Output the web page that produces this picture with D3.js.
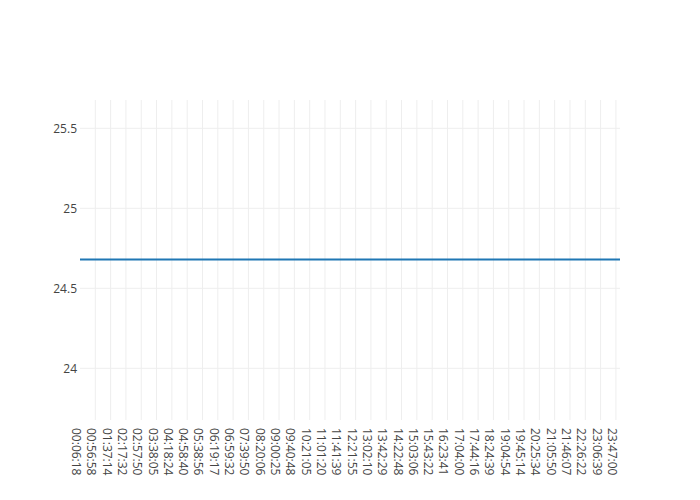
<!DOCTYPE html>
<html>
<head>
<meta charset="utf-8">
<script src="https://cdn.jsdelivr.net/npm/d3@7"></script>
<style>
  body { margin: 0; background: #fff; }
  text { font-family: "Open Sans", sans-serif; font-size: 12px; fill: #444; }
</style>
</head>
<body>
<div id="chart"></div>
<script>
// time labels shown on the category axis (one every 15 samples)
const timeLabels = ["00:06:18", "00:56:58", "01:37:14", "02:17:32", "02:57:50", "03:38:05",
    "04:18:24", "04:58:40", "05:38:56", "06:19:17", "06:59:32", "07:39:50",
    "08:20:06", "09:00:25", "09:40:48", "10:21:05", "11:01:20", "11:41:39",
    "12:21:55", "13:02:10", "13:42:29", "14:22:48", "15:03:06", "15:43:22",
    "16:23:41", "17:04:00", "17:44:16", "18:24:39", "19:04:54", "19:45:14",
    "20:25:34", "21:05:50", "21:46:07", "22:26:22", "23:06:39", "23:47:00"];
const labelStep = 15;
const lastSample = 529;

// readings at each labelled sample, plus the final sample
const temperature = [24.68, 24.68, 24.68, 24.68, 24.68, 24.68,
    24.68, 24.68, 24.68, 24.68, 24.68, 24.68,
    24.68, 24.68, 24.68, 24.68, 24.68, 24.68,
    24.68, 24.68, 24.68, 24.68, 24.68, 24.68,
    24.68, 24.68, 24.68, 24.68, 24.68, 24.68,
    24.68, 24.68, 24.68, 24.68, 24.68, 24.68];
const lastTemperature = 24.68;

const yTicks = [24, 24.5, 25, 25.5];
const yRange = [23.677, 25.677];

const width = 700, height = 500;
const margin = {top: 100, right: 80, bottom: 80, left: 80};

const points = temperature.map((v, i) => ({idx: i * labelStep, value: v}));
points.push({idx: lastSample, value: lastTemperature});

const svg = d3.select("#chart").append("svg")
    .attr("width", width)
    .attr("height", height);

const x = d3.scaleLinear()
    .domain([0, lastSample])
    .range([margin.left, width - margin.right]);

const y = d3.scaleLinear()
    .domain(yRange)
    .range([height - margin.bottom, margin.top]);

const tickIdx = timeLabels.map((_, i) => i * labelStep);

// grid
svg.append("g").selectAll("line")
    .data(tickIdx.slice(1))
    .enter().append("line")
    .attr("x1", d => x(d)).attr("x2", d => x(d))
    .attr("y1", margin.top).attr("y2", height - margin.bottom)
    .attr("stroke", "#eee").attr("stroke-width", 1);

svg.append("g").selectAll("line")
    .data(yTicks)
    .enter().append("line")
    .attr("x1", margin.left).attr("x2", width - margin.right)
    .attr("y1", d => y(d)).attr("y2", d => y(d))
    .attr("stroke", "#eee").attr("stroke-width", 1);

// y axis
const yAxis = d3.axisLeft(y)
    .tickValues(yTicks)
    .tickSize(0)
    .tickPadding(3)
    .tickFormat(d3.format("~g"));

svg.append("g")
    .attr("transform", `translate(${margin.left}, 0)`)
    .call(yAxis)
    .call(g => g.select(".domain").remove())
    .call(g => g.selectAll("text").style("font-family", "'Open Sans', sans-serif").style("font-size", "12px").attr("fill", "#444"));

// x axis, rotated labels
const xAxis = d3.axisBottom(x)
    .tickValues(tickIdx)
    .tickSize(0)
    .tickFormat((d, i) => timeLabels[i]);

svg.append("g")
    .attr("transform", `translate(0, ${height - margin.bottom})`)
    .call(xAxis)
    .call(g => g.select(".domain").remove())
    .call(g => g.selectAll("text")
        .attr("transform", "translate(0, 8) rotate(90)")
        .attr("x", 0).attr("y", 0)
        .attr("dy", "0.71em")
        .style("text-anchor", "start")
        .style("font-family", "'Open Sans', sans-serif")
        .style("font-size", "12px")
        .attr("fill", "#444"));

// line
const line = d3.line()
    .x(d => x(d.idx))
    .y(d => y(d.value));

svg.append("path")
    .datum(points)
    .attr("fill", "none")
    .attr("stroke", "#1f77b4")
    .attr("stroke-width", 2)
    .attr("d", line);
</script>
</body>
</html>
